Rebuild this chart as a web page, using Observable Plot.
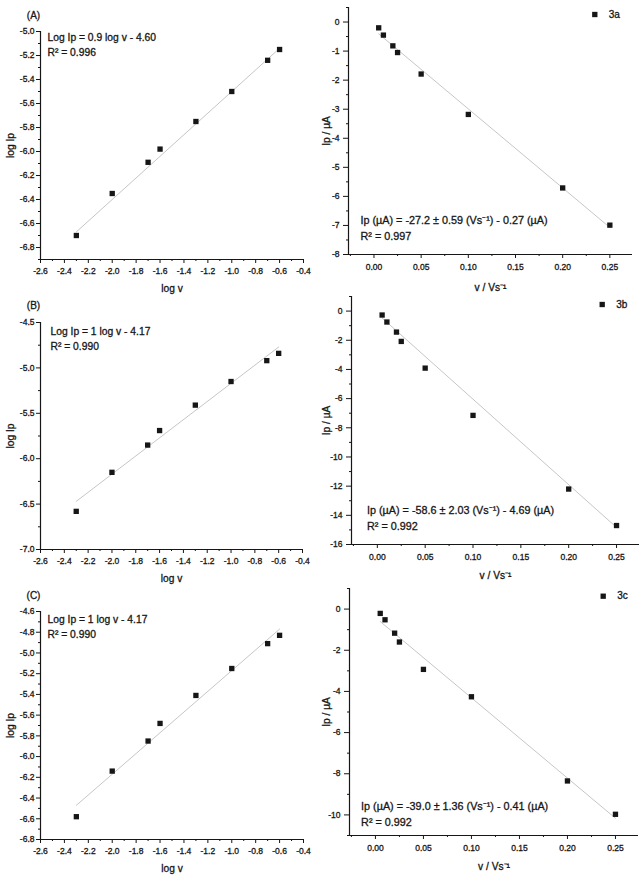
<!DOCTYPE html>
<html>
<head>
<meta charset="utf-8">
<script src="https://cdn.jsdelivr.net/npm/d3@7"></script>
<script src="https://cdn.jsdelivr.net/npm/@observablehq/plot@0.6"></script>
<style>
  body { margin: 0; background: #fff; }
  #fig { position: relative; width: 642px; height: 883px; overflow: hidden; }
  .cell { position: absolute; }
  .cell svg { overflow: visible; }
  /* slightly heavier lettering, like the printed figure */
  .cell svg text { stroke: #161616; stroke-width: 0.3px; }
</style>
</head>
<body>
<div id="fig"></div>
<script>
// log-log data (panels A–C)
const logV = [-2.3, -2.0, -1.7, -1.6, -1.3, -1.0, -0.7, -0.6];
const logIpA = [-6.70, -6.35, -6.09, -5.98, -5.75, -5.50, -5.24, -5.15];
const logIpB = [-6.58, -6.15, -5.85, -5.69, -5.41, -5.15, -4.92, -4.84];
const logIpC = [-6.58, -6.14, -5.85, -5.68, -5.41, -5.15, -4.91, -4.83];

// peak current vs scan rate (3a–3c)
const scanRate = [0.005, 0.01, 0.02, 0.025, 0.05, 0.1, 0.2, 0.25];
const ip3a = [-0.20, -0.45, -0.82, -1.05, -1.79, -3.18, -5.71, -6.99];
const ip3b = [-0.27, -0.75, -1.44, -2.08, -3.91, -7.15, -12.2, -14.7];
const ip3c = [-0.21, -0.52, -1.17, -1.60, -2.93, -4.26, -8.35, -9.97];

// linear fits: A, B, C, 3a, 3b, 3c
const fitSlopes = [0.9, 1, 1, -27.2, -58.6, -39.0];
const fitIntercepts = [-4.60, -4.17, -4.17, -0.27, -0.18, -0.41];

// tick values
const logVTicks = [-2.6, -2.4, -2.2, -2.0, -1.8, -1.6, -1.4, -1.2, -1.0, -0.8, -0.6, -0.4];
const logIpTicksA = [-6.8, -6.6, -6.4, -6.2, -6.0, -5.8, -5.6, -5.4, -5.2, -5.0];
const logIpTicksB = [-7.0, -6.5, -6.0, -5.5, -5.0, -4.5];
const logIpTicksC = [-6.8, -6.6, -6.4, -6.2, -6.0, -5.8, -5.6, -5.4, -5.2, -5.0, -4.8, -4.6];
const rateTicks = [0, 0.05, 0.10, 0.15, 0.20, 0.25];
const ipTicks3a = [-8, -7, -6, -5, -4, -3, -2, -1, 0];
const ipTicks3b = [-16, -14, -12, -10, -8, -6, -4, -2, 0];
const ipTicks3c = [-10, -8, -6, -4, -2, 0];

// texts
const panelTags = ["(A)", "(B)", "(C)"];
const seriesNames = ["3a", "3b", "3c"];
const fitNotes = [
  "Log Ip = 0.9 log v - 4.60\nR² = 0.996",
  "Log Ip = 1 log v - 4.17\nR² = 0.990",
  "Log Ip = 1 log v - 4.17\nR² = 0.990",
  "Ip (µA) = -27.2 ± 0.59 (Vs⁻¹) - 0.27 (µA)\nR² = 0.997",
  "Ip (µA) = -58.6 ± 2.03 (Vs⁻¹) - 4.69 (µA)\nR² = 0.992",
  "Ip (µA) = -39.0 ± 1.36 (Vs⁻¹) - 0.41 (µA)\nR² = 0.992"
];
const xTitles = ["log v", "v / Vs⁻¹"];
const yTitles = ["log Ip", "Ip / µA"];

const FONT = '"Liberation Sans", Arial, "Helvetica", sans-serif';
const INK = "#161616";

// minor ticks halfway between majors, kept inside the domain
function minorTicks(major, domain) {
  const step = major[1] - major[0];
  const all = [major[0] - step / 2, ...major.map(t => t + step / 2)];
  const lo = Math.min(...domain) - 1e-9, hi = Math.max(...domain) + 1e-9;
  return all.filter(t => t >= lo && t <= hi);
}

function panel(c) {
  const pts = c.xs.map((x, i) => ({x, y: c.ys[i]}));
  const ends = [c.xs[0], c.xs[c.xs.length - 1]];
  const fit = ends.map(x => ({x, y: c.slope * x + c.intercept}));
  const marks = [
    Plot.ruleX([c.xDomain[0]], {stroke: INK, strokeWidth: 1.2}),
    Plot.ruleY([c.yDomain[0]], {stroke: INK, strokeWidth: 1.2}),
    Plot.axisX({ticks: c.xTicks, tickSize: 4, tickPadding: c.xPad, tickFormat: c.xFmt, label: null, fontSize: 8.5}),
    Plot.axisX({ticks: minorTicks(c.xTicks, c.xDomain), tickSize: 2, tickFormat: () => "", label: null}),
    Plot.axisY({ticks: c.yTicks, tickSize: c.yTick, tickPadding: c.yPad, tickFormat: c.yFmt, label: null, fontSize: 8.5}),
    Plot.axisY({ticks: minorTicks(c.yTicks, c.yDomain), tickSize: 2, tickFormat: () => "", label: null}),
    Plot.line(fit, {x: "x", y: "y", stroke: "#c6c6c6", strokeWidth: 1}),
    Plot.dot(pts, {x: "x", y: "y", symbol: "square", r: 3, fill: INK, stroke: null}),
    Plot.text([c.note], {text: d => d, frameAnchor: c.noteAnchor, textAnchor: "start",
      dx: c.noteDx, dy: c.noteDy, fontSize: c.noteSize, lineHeight: 1.42, fill: INK}),
    Plot.text([c.xTitle], {text: d => d, frameAnchor: "bottom", lineAnchor: "middle", textAnchor: "middle",
      dy: c.xTitleDy, fontSize: 10.2, fill: INK}),
    Plot.text([c.yTitle], {text: d => d, frameAnchor: "left", lineAnchor: "middle", textAnchor: "middle",
      rotate: -90, dx: c.yTitleDx, fontSize: 10.2, fill: INK})
  ];
  if (c.tag) {
    marks.push(Plot.text([c.tag], {text: d => d, frameAnchor: "top-left", textAnchor: "middle", lineAnchor: "middle",
      dx: -7, dy: c.tagDy, fontSize: 10, fill: INK}));
  }
  if (c.legend) {
    marks.push(Plot.dot([c.legend], {frameAnchor: "top-right", dx: c.legDx, dy: c.legDy, symbol: "square", r: 3, fill: INK, stroke: null}));
    marks.push(Plot.text([c.legend], {text: d => d, frameAnchor: "top-right", textAnchor: "start", lineAnchor: "middle",
      dx: c.legDx + 14, dy: c.legDy, fontSize: 10, fill: INK}));
  }
  const svg = Plot.plot({
    width: 321,
    height: c.height,
    marginLeft: c.m[0], marginRight: c.m[1], marginTop: c.m[2], marginBottom: c.m[3],
    x: {domain: c.xDomain},
    y: {domain: c.yDomain},
    style: {fontFamily: FONT, fontSize: "8.5px", color: INK, background: "transparent", overflow: "visible"},
    marks
  });
  const cell = document.createElement("div");
  cell.className = "cell";
  cell.style.left = c.left + "px";
  cell.style.top = c.top + "px";
  cell.appendChild(svg);
  document.getElementById("fig").appendChild(cell);
}

const fmt1 = d => d.toFixed(1);
const fmt2 = d => d.toFixed(2);
const fmt0 = d => String(d);

const leftBase = {xs: logV, xDomain: [-2.6, -0.4], xTicks: logVTicks, xFmt: fmt1, xPad: 4.5,
  yFmt: fmt1, yTick: 4, yPad: 2, noteAnchor: "top-left", noteDx: 7, noteSize: 10.3,
  xTitle: xTitles[0], yTitle: yTitles[0], xTitleDy: 29, yTitleDx: -30};
const rightBase = {xs: scanRate, xDomain: [-0.027, 0.274], xTicks: rateTicks, xFmt: fmt2, xPad: 5.5,
  yFmt: fmt0, yTick: 5, yPad: 4, noteAnchor: "bottom-left", noteSize: 10.8,
  xTitle: xTitles[1], yTitle: yTitles[1]};

// left column
panel({...leftBase, left: 0, top: 0, height: 290, m: [40, 18, 31, 31],
  ys: logIpA, yDomain: [-6.9, -5.0], yTicks: logIpTicksA, slope: fitSlopes[0], intercept: fitIntercepts[0],
  note: fitNotes[0], noteDy: -1, tag: panelTags[0], tagDy: -16});
panel({...leftBase, left: 0, top: 290, height: 290, m: [40, 19, 32, 31],
  ys: logIpB, yDomain: [-7.0, -4.5], yTicks: logIpTicksB, slope: fitSlopes[1], intercept: fitIntercepts[1],
  note: fitNotes[1], noteDx: 10, noteDy: 2.3, tag: panelTags[1], tagDy: -17});
panel({...leftBase, left: 0, top: 580, height: 303, m: [40, 18, 31, 44],
  ys: logIpC, yDomain: [-6.8, -4.6], yTicks: logIpTicksC, slope: fitSlopes[2], intercept: fitIntercepts[2],
  note: fitNotes[2], noteDy: 1.6, tag: panelTags[2], tagDy: -15.7});

// right column
panel({...rightBase, left: 321, top: 0, height: 290, m: [27, 10, 7, 36],
  ys: ip3a, yDomain: [-8, 0.5], yTicks: ipTicks3a, slope: fitSlopes[3], intercept: fitIntercepts[3],
  note: fitNotes[3], noteDx: 12, noteDy: -14.7, xTitleDy: 33, yTitleDx: -22,
  legend: seriesNames[0], legDx: -37.7, legDy: 7});
panel({...rightBase, left: 321, top: 290, height: 290, m: [30, 3, 6, 36],
  ys: ip3b, yDomain: [-16, 1], yTicks: ipTicks3b, slope: fitSlopes[4], intercept: fitIntercepts[4],
  note: fitNotes[4], noteDx: 15.5, noteDy: -14.7, xTitleDy: 31.7, yTitleDx: -25,
  legend: seriesNames[1], legDx: -37.3, legDy: 8});
panel({...rightBase, left: 321, top: 580, height: 303, m: [28, 4, 8, 48],
  ys: ip3c, yDomain: [-11, 1], yTicks: ipTicks3c, slope: fitSlopes[5], intercept: fitIntercepts[5],
  note: fitNotes[5], noteDx: 11.6, noteDy: -9.7, xTitleDy: 31.7, yTitleDx: -23,
  legend: seriesNames[2], legDx: -35.3, legDy: 7.7});
</script>
</body>
</html>
